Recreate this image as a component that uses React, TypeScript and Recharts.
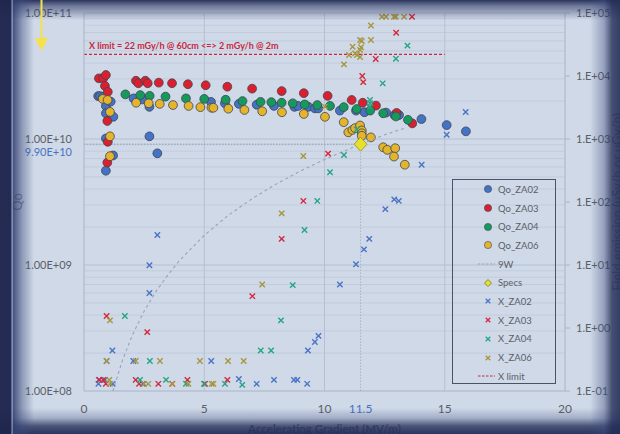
import React from 'react';
import { ScatterChart, Scatter, XAxis, YAxis, ReferenceLine, Legend } from 'recharts';

type Pt = [number, number];

// axes
const xTicks = [0, 5, 10, 11.5, 15, 20];
const xGrid = [5, 10, 15];
const qoTicks = [1e8, 1e9, 1e10, 1e11];
const feTicks = [0.1, 1, 10, 100, 1000, 10000, 100000];

// Qo (left axis)
const qoZA02: Pt[] = [
  [0.59, 2.19e10], [0.67, 2.19e10], [0.8, 2.17e10], [0.91, 1.83e10], [0.91, 1.6e10], [1.11, 1.98e10],
  [1.22, 1.5e10], [0.91, 1.01e10], [1.21, 7.4e9], [0.91, 5.6e9], [2.06, 2.1e10], [2.43, 2.06e10],
  [2.72, 1.8e10], [2.72, 1.05e10], [3.05, 7.7e9], [5.28, 1.97e10], [5.86, 1.92e10], [6.44, 1.9e10],
  [7.18, 1.87e10], [7.9, 1.83e10], [8.75, 1.8e10], [8.9, 1.83e10], [9.33, 1.8e10], [9.6, 1.75e10],
  [9.74, 1.75e10], [10.64, 1.68e10], [11.31, 1.68e10], [11.66, 1.63e10], [12.56, 1.62e10], [12.91, 1.55e10],
  [13.1, 1.55e10], [14.03, 1.44e10], [15.08, 1.29e10], [15.88, 1.15e10],
];
const qoZA03: Pt[] = [
  [0.62, 3.03e10], [0.8, 3.03e10], [0.91, 3.22e10], [0.87, 2.64e10], [0.99, 2.37e10], [0.97, 1.39e10],
  [0.99, 9.5e9], [0.97, 6.5e9], [2.16, 2.9e10], [2.26, 2.77e10], [2.55, 2.9e10], [2.65, 2.77e10],
  [3.11, 2.8e10], [3.66, 2.77e10], [4.32, 2.72e10], [5.06, 2.67e10], [5.96, 2.6e10], [6.99, 2.51e10],
  [8.22, 2.4e10], [9.14, 2.31e10], [10.13, 2.2e10], [11.13, 2.04e10], [11.59, 1.94e10], [12.14, 1.84e10],
  [13.0, 1.61e10], [13.65, 1.33e10],
];
const qoZA04: Pt[] = [
  [1.72, 2.26e10], [2.34, 2.23e10], [2.73, 2.2e10], [3.39, 2.17e10], [4.24, 2.1e10], [5.0, 2.08e10],
  [5.89, 2.05e10], [6.59, 2.0e10], [7.34, 1.97e10], [7.79, 1.96e10], [8.22, 1.94e10], [8.68, 1.92e10],
  [9.18, 1.88e10], [9.7, 1.86e10], [10.23, 1.83e10], [10.8, 1.79e10], [11.34, 1.73e10], [11.9, 1.68e10],
  [12.44, 1.6e10], [12.97, 1.51e10], [13.47, 1.42e10],
];
const qoZA06: Pt[] = [
  [0.78, 2.08e10], [0.98, 2.04e10], [1.08, 1.64e10], [1.08, 1.05e10], [1.08, 7.3e9], [2.17, 1.94e10],
  [2.69, 1.92e10], [3.15, 1.9e10], [3.7, 1.86e10], [4.35, 1.83e10], [4.84, 1.79e10], [5.3, 1.77e10],
  [5.38, 1.77e10], [6.0, 1.74e10], [6.67, 1.7e10], [7.41, 1.66e10], [8.23, 1.63e10], [9.14, 1.58e10],
  [10.02, 1.5e10], [10.8, 1.36e10], [10.99, 1.13e10], [11.16, 1.18e10], [11.27, 1.22e10], [11.48, 1.28e10],
  [11.55, 1.17e10], [11.55, 1.11e10], [11.55, 1.06e10], [11.93, 1.03e10], [12.44, 8.6e9], [12.61, 8.2e9],
  [12.94, 8.45e9], [12.89, 7.26e9], [13.34, 6.25e9],
];
const nineW: Pt[] = [
  [1.2, 1.0e8], [1.6, 1.75e8], [2, 2.75e8], [2.5, 4.3e8], [3, 6.2e8], [3.5, 8.4e8], [4, 1.1e9],
  [5, 1.72e9], [6, 2.48e9], [7, 3.37e9], [8, 4.4e9], [9, 5.57e9], [10, 6.88e9], [11.5, 9.1e9],
  [12.5, 1.08e10], [13.4, 1.23e10],
];
const specs: Pt[] = [[11.5, 9.1e9]];

// field emission (right axis)
const xZA02: Pt[] = [
  [0.62, 0.15], [0.87, 0.15], [0.6, 0.13], [1.19, 0.13], [2.44, 0.13], [6.44, 0.155], [7.18, 0.13],
  [7.9, 0.15], [8.73, 0.15], [8.87, 0.15], [9.28, 0.13], [1.18, 0.44], [0.94, 0.3], [2.05, 0.3],
  [5.29, 0.3], [9.31, 0.44], [9.6, 0.6], [9.75, 0.75], [10.64, 4.9], [11.31, 10.3], [11.64, 17.7],
  [11.86, 26], [12.53, 77], [12.9, 110], [13.09, 104], [14.04, 390], [15.08, 1170], [15.87, 2680],
  [3.05, 30], [2.72, 9.9], [2.72, 3.6],
];
const xZA03: Pt[] = [
  [0.64, 0.15], [0.8, 0.15], [0.91, 0.13], [2.15, 0.15], [2.29, 0.13], [3.09, 0.13], [3.67, 0.13],
  [4.3, 0.15], [5.03, 0.13], [5.96, 0.15], [0.94, 1.55], [2.63, 0.86], [7.0, 3.2], [8.22, 26],
  [9.12, 104], [10.15, 585], [11.16, 4160], [11.57, 1.0e4], [11.61, 8000], [12.13, 1.86e4],
  [12.98, 4.87e4], [13.64, 8.7e4],
];
const xZA04: Pt[] = [
  [2.33, 0.15], [3.41, 0.15], [4.24, 0.13], [4.99, 0.13], [5.86, 0.13], [6.58, 0.125], [1.7, 1.55],
  [2.74, 0.3], [7.35, 0.44], [7.78, 0.44], [8.19, 1.32], [8.68, 4.8], [9.17, 36], [9.7, 104],
  [10.23, 296], [10.81, 557], [11.34, 1420], [11.89, 4160], [11.89, 3690], [11.89, 3260], [12.42, 7650],
  [12.97, 1.88e4], [13.45, 3.03e4],
];
const xZA06: Pt[] = [
  [1.05, 0.15], [1.08, 0.13], [2.5, 0.13], [2.67, 0.13], [3.67, 0.13], [4.34, 0.13], [5.31, 0.13],
  [5.38, 0.13], [1.08, 1.32], [0.94, 0.3], [2.15, 0.3], [3.16, 0.3], [4.82, 0.3], [5.99, 0.3],
  [6.64, 0.3], [7.41, 4.9], [8.22, 66], [9.12, 537], [10.02, 3260], [10.81, 1.53e4], [11.02, 2.15e4],
  [11.17, 2.92e4], [11.27, 2.29e4], [11.35, 2.15e4], [11.48, 3.73e4], [11.55, 3.6e4], [11.52, 2.86e4],
  [11.48, 2.59e4], [11.48, 2.0e4], [11.93, 3.73e4], [11.93, 6.34e4], [12.39, 8.7e4], [12.56, 8.7e4],
  [12.89, 8.7e4], [12.97, 8.7e4], [13.31, 8.7e4],
];

const specE = 11.5;
const specQ = 9.1e9;
const xLimit = 2.2e4;
const xLimitEnd = 15;

const C = {
  bg: '#cfd9e8',
  blue: '#4472c4',
  red: '#dc1f2f',
  green: '#159a5c',
  gold: '#e4b42c',
  xBlue: '#4a74c6',
  xRed: '#d4283c',
  xGreen: '#25a583',
  xGold: '#a8963e',
  text: '#5a5f68',
  specBlue: '#4a72c0',
  limit: '#c8283e',
};

const toData = (a: Pt[]) => a.map(([x, y]) => ({ x, y }));
const minorQo = [1e8, 1e9, 1e10].flatMap(d => [2, 3, 4, 5, 6, 7, 8, 9].map(m => m * d));

const expLabel = (v: number, digits: number) => {
  const e = Math.round(Math.log10(v));
  const m = v / Math.pow(10, e);
  const mant = digits ? m.toFixed(digits) : m.toFixed(0) + '.';
  return `${mant}E${e < 0 ? '-' : '+'}${String(Math.abs(e)).padStart(2, '0')}`;
};

const dot = (color: string) => (p: any) => (
  <circle cx={p.cx} cy={p.cy} r={4.4} fill={color} stroke="#3d4450" strokeWidth={0.8} />
);
const cross = (color: string) => (p: any) => (
  <path
    d={`M${p.cx - 2.7},${p.cy - 2.7}L${p.cx + 2.7},${p.cy + 2.7}M${p.cx + 2.7},${p.cy - 2.7}L${p.cx - 2.7},${p.cy + 2.7}`}
    stroke={color}
    strokeWidth={1.4}
    fill="none"
  />
);
const diamond = (p: any) => (
  <path
    d={`M${p.cx},${p.cy - 7}L${p.cx + 6.5},${p.cy}L${p.cx},${p.cy + 7}L${p.cx - 6.5},${p.cy}Z`}
    fill="#e6e02a"
    stroke="#8f8f24"
    strokeWidth={0.8}
  />
);

const XTick = (p: any) => {
  const v = p.payload.value;
  return (
    <text x={p.x} y={p.y} dy="0.71em" textAnchor="middle" fontSize={12}
      fill={v === 11.5 ? C.specBlue : C.text}>{v}</text>
  );
};

const VTitle = (p: any) => {
  const { viewBox, text, dx } = p;
  const cx = viewBox.x + dx;
  const cy = viewBox.y + viewBox.height / 2;
  return (
    <text x={cx} y={cy} transform={`rotate(-90 ${cx} ${cy})`} textAnchor="middle"
      dominantBaseline="central" fontSize={13} fill="#7a8296">{text}</text>
  );
};

const SpecLabel = (p: any) => (
  <text x={p.viewBox.x - 12} y={p.viewBox.y + 11.5} textAnchor="end" fontSize={11} fill={C.specBlue}>9.90E+10</text>
);

const LimitLabel = (p: any) => (
  <text x={p.viewBox.x + 5} y={p.viewBox.y - 5} fontSize={9} fontWeight="bold" fill={C.limit}>
    X limit = 22 mGy/h @ 60cm &lt;=&gt; 2 mGy/h @ 2m
  </text>
);

const legendItems = [
  { name: 'Qo_ZA02', kind: 'dot', color: C.blue },
  { name: 'Qo_ZA03', kind: 'dot', color: C.red },
  { name: 'Qo_ZA04', kind: 'dot', color: C.green },
  { name: 'Qo_ZA06', kind: 'dot', color: C.gold },
  { name: '9W', kind: 'dash', color: '#9aa3b3' },
  { name: 'Specs', kind: 'diamond', color: '#e6e02a' },
  { name: 'X_ZA02', kind: 'x', color: C.xBlue },
  { name: 'X_ZA03', kind: 'x', color: C.xRed },
  { name: 'X_ZA04', kind: 'x', color: C.xGreen },
  { name: 'X_ZA06', kind: 'x', color: C.xGold },
  { name: 'X limit', kind: 'dash', color: C.limit },
];

const LegendIcon = ({ kind, color }: { kind: string; color: string }) => {
  const cx = 35, cy = 6;
  if (kind === 'dot') return <circle cx={cx} cy={cy} r={3.6} fill={color} stroke="#3d4450" strokeWidth={0.6} />;
  if (kind === 'dash') return <line x1={25} y1={cy} x2={42} y2={cy} stroke={color} strokeWidth={1} strokeDasharray="2.5 1.5" />;
  if (kind === 'diamond')
    return <path d={`M${cx},${cy - 3.5}L${cx + 3.5},${cy}L${cx},${cy + 3.5}L${cx - 3.5},${cy}Z`} fill={color} stroke="#6a6a20" strokeWidth={0.7} />;
  return (
    <path d={`M${cx - 2.3},${cy - 2.3}L${cx + 2.3},${cy + 2.3}M${cx + 2.3},${cy - 2.3}L${cx - 2.3},${cy + 2.3}`}
      stroke={color} strokeWidth={1.3} />
  );
};

const LegendBox = () => (
  <div style={{ width: 104, height: 205, border: '1px solid #4a5366', boxSizing: 'border-box', fontFamily: 'Lato, sans-serif' }}>
    {legendItems.map(it => (
      <div key={it.name} style={{ height: 18.7, display: 'flex', alignItems: 'center' }}>
        <svg width={45} height={12}><LegendIcon kind={it.kind} color={it.color} /></svg>
        <span style={{ fontSize: 9.5, color: C.text }}>{it.name}</span>
      </div>
    ))}
  </div>
);

const vignette = [
  'linear-gradient(to right, rgba(30,38,78,0.97) 0px, rgba(30,38,78,0.97) 11px, rgba(150,165,200,0.9) 12px, rgba(50,62,110,0.85) 13.5px, rgba(60,75,125,0.45) 22px, rgba(60,75,125,0) 34px)',
  'linear-gradient(to left, rgba(35,44,85,0.9) 0px, rgba(35,44,85,0.8) 8px, rgba(60,75,125,0.4) 16px, rgba(60,75,125,0) 30px)',
  'linear-gradient(to bottom, rgba(35,44,85,0.95) 0px, rgba(45,56,100,0.6) 6px, rgba(60,75,125,0) 20px)',
  'linear-gradient(to top, rgba(35,44,85,0.95) 0px, rgba(40,50,92,0.8) 8px, rgba(60,75,125,0.3) 16px, rgba(60,75,125,0) 26px)',
].join(',');

export default function App() {
  return (
    <div style={{ position: 'relative', width: 620, height: 434, background: C.bg, fontFamily: 'Lato, sans-serif', overflow: 'hidden' }}>
      <style>{'body{margin:0}'}</style>
      <ScatterChart width={620} height={434} margin={{ top: 13, right: 0, bottom: 0, left: 0 }}>
        <XAxis type="number" dataKey="x" domain={[0, 20]} ticks={xTicks} interval={0} height={43}
          tickLine={false} tickSize={0} tickMargin={13} axisLine={{ stroke: '#aab4c6' }} tick={<XTick />}
          label={{ value: 'Accelerating Gradient (MV/m)', position: 'insideBottom', offset: 1,
            style: { fontSize: 11.5, fontWeight: 'bold', fill: '#5d6579' } }} />
        <YAxis yAxisId="q" type="number" dataKey="y" scale="log" domain={[1e8, 1e11]} ticks={qoTicks}
          allowDataOverflow interval={0} width={84} tickLine={false} tickSize={0} tickMargin={12}
          axisLine={{ stroke: '#aab4c6' }} tick={{ fontSize: 11, fill: C.text }}
          tickFormatter={(v: number) => expLabel(v, 2)}
          label={<VTitle text="Qo" dx={17} />} />
        <YAxis yAxisId="f" orientation="right" type="number" dataKey="y" scale="log" domain={[0.1, 1e5]}
          ticks={feTicks} allowDataOverflow interval={0} width={55} tickSize={5} tickMargin={6}
          tickLine={{ stroke: '#aab4c6' }} axisLine={{ stroke: '#aab4c6' }} tick={{ fontSize: 11, fill: C.text }}
          tickFormatter={(v: number) => expLabel(v, 0)}
          label={<VTitle text="Field emission (uSv/h or uGy/h)" dx={52} />} />

        {minorQo.map(v => (
          <ReferenceLine key={'m' + v} yAxisId="q" y={v} stroke="#c2ccdc" strokeWidth={1} />
        ))}
        {[1e9, 1e10, 1e11].map(v => (
          <ReferenceLine key={'M' + v} yAxisId="q" y={v} stroke="#b4bfd1" strokeWidth={1} />
        ))}
        {xGrid.map(v => (
          <ReferenceLine key={'v' + v} yAxisId="q" x={v} stroke="#b6c0d2" strokeWidth={1} />
        ))}
        <ReferenceLine yAxisId="q" segment={[{ x: 0, y: specQ }, { x: specE, y: specQ }]}
          stroke="#8e9ab4" strokeDasharray="1.5 1.5" strokeWidth={1} label={<SpecLabel />} />
        <ReferenceLine yAxisId="q" segment={[{ x: specE, y: 1e8 }, { x: specE, y: specQ }]}
          stroke="#aab4c8" strokeDasharray="1.5 1.5" strokeWidth={1} />
        <ReferenceLine yAxisId="f" segment={[{ x: 0, y: xLimit }, { x: xLimitEnd, y: xLimit }]}
          stroke={C.limit} strokeDasharray="3 2" strokeWidth={1.2} label={<LimitLabel />} />

        <Scatter yAxisId="q" data={toData(qoZA02)} shape={dot(C.blue)} isAnimationActive={false} />
        <Scatter yAxisId="q" data={toData(qoZA03)} shape={dot(C.red)} isAnimationActive={false} />
        <Scatter yAxisId="q" data={toData(qoZA04)} shape={dot(C.green)} isAnimationActive={false} />
        <Scatter yAxisId="q" data={toData(qoZA06)} shape={dot(C.gold)} isAnimationActive={false} />
        <Scatter yAxisId="q" data={toData(nineW)} line={{ stroke: '#9aa3b3', strokeDasharray: '3 3', strokeWidth: 1.1 }}
          lineType="joint" shape={() => <g />} isAnimationActive={false} />
        <Scatter yAxisId="q" data={toData(specs)} shape={diamond} isAnimationActive={false} />
        <Scatter yAxisId="f" data={toData(xZA02)} shape={cross(C.xBlue)} isAnimationActive={false} />
        <Scatter yAxisId="f" data={toData(xZA03)} shape={cross(C.xRed)} isAnimationActive={false} />
        <Scatter yAxisId="f" data={toData(xZA04)} shape={cross(C.xGreen)} isAnimationActive={false} />
        <Scatter yAxisId="f" data={toData(xZA06)} shape={cross(C.xGold)} isAnimationActive={false} />

        <Legend layout="vertical" align="center" verticalAlign="middle" content={() => <LegendBox />}
          wrapperStyle={{ left: 452, top: 179, width: 104, height: 205 }} />
      </ScatterChart>
      <div style={{ position: 'absolute', inset: 0, pointerEvents: 'none', background: vignette }} />
      <svg width={620} height={434} style={{ position: 'absolute', left: 0, top: 0, pointerEvents: 'none' }}>
        <line x1={41.5} y1={0} x2={41.5} y2={40} stroke="#f6e04c" strokeWidth={2} />
        <path d="M35,38L48,38L41.5,51Z" fill="#f6e04c" />
      </svg>
    </div>
  );
}
